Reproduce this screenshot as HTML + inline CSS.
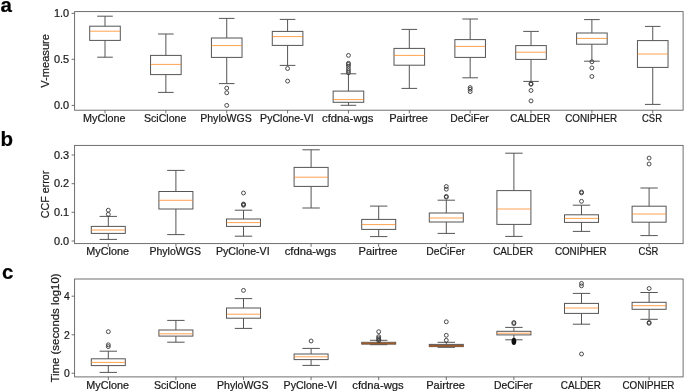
<!DOCTYPE html><html><head><meta charset="utf-8"><style>html,body{margin:0;padding:0;background:#fff;width:685px;height:392px;overflow:hidden}svg{display:block;will-change:transform} text{font-family:"Liberation Sans", sans-serif;fill:#1a1a1a;stroke:#1a1a1a;stroke-width:0.22px}</style></head><body>
<svg width="685" height="392" viewBox="0 0 685 392">
<text x="0.4" y="12.3" font-size="20.5" font-weight="bold" style="fill:#000">a</text>
<text x="0.4" y="146.2" font-size="20.5" font-weight="bold" style="fill:#000">b</text>
<text x="2.0" y="279.3" font-size="20.5" font-weight="bold" style="fill:#000">c</text>
<rect x="74.6" y="11.6" width="608.5" height="98.6" fill="none" stroke="#606060" stroke-width="0.9"/>
<line x1="105" y1="16.2" x2="105" y2="26.2" stroke="#555555" stroke-width="1.0"/>
<line x1="105" y1="40.4" x2="105" y2="57.2" stroke="#555555" stroke-width="1.0"/>
<line x1="97.2" y1="16.2" x2="112.8" y2="16.2" stroke="#555555" stroke-width="1.0"/>
<line x1="97.2" y1="57.2" x2="112.8" y2="57.2" stroke="#555555" stroke-width="1.0"/>
<rect x="89.7" y="26.2" width="30.6" height="14.2" fill="none" stroke="#555555" stroke-width="1.0"/>
<line x1="89.7" y1="31.2" x2="120.3" y2="31.2" stroke="#ff7f0e" stroke-width="1.0" stroke-opacity="0.72"/>
<line x1="105" y1="110.2" x2="105" y2="113.4" stroke="#606060" stroke-width="0.9"/>
<text x="104.3" y="121.7" text-anchor="middle" font-size="10.6" textLength="42.6" lengthAdjust="spacingAndGlyphs">MyClone</text>
<line x1="165.86" y1="34" x2="165.86" y2="55.4" stroke="#555555" stroke-width="1.0"/>
<line x1="165.86" y1="74.6" x2="165.86" y2="92.4" stroke="#555555" stroke-width="1.0"/>
<line x1="158.06" y1="34" x2="173.66" y2="34" stroke="#555555" stroke-width="1.0"/>
<line x1="158.06" y1="92.4" x2="173.66" y2="92.4" stroke="#555555" stroke-width="1.0"/>
<rect x="150.56" y="55.4" width="30.6" height="19.2" fill="none" stroke="#555555" stroke-width="1.0"/>
<line x1="150.56" y1="64.4" x2="181.16" y2="64.4" stroke="#ff7f0e" stroke-width="1.0" stroke-opacity="0.72"/>
<line x1="165.86" y1="110.2" x2="165.86" y2="113.4" stroke="#606060" stroke-width="0.9"/>
<text x="165.16" y="121.7" text-anchor="middle" font-size="10.6" textLength="42.4" lengthAdjust="spacingAndGlyphs">SciClone</text>
<line x1="226.72" y1="18.4" x2="226.72" y2="38" stroke="#555555" stroke-width="1.0"/>
<line x1="226.72" y1="57.4" x2="226.72" y2="83.6" stroke="#555555" stroke-width="1.0"/>
<line x1="218.92" y1="18.4" x2="234.52" y2="18.4" stroke="#555555" stroke-width="1.0"/>
<line x1="218.92" y1="83.6" x2="234.52" y2="83.6" stroke="#555555" stroke-width="1.0"/>
<rect x="211.42" y="38" width="30.6" height="19.4" fill="none" stroke="#555555" stroke-width="1.0"/>
<line x1="211.42" y1="45.6" x2="242.02" y2="45.6" stroke="#ff7f0e" stroke-width="1.0" stroke-opacity="0.72"/>
<circle cx="226.72" cy="88.1" r="1.95" fill="none" stroke="#383838" stroke-width="0.9"/>
<circle cx="226.72" cy="92.8" r="1.95" fill="none" stroke="#383838" stroke-width="0.9"/>
<circle cx="226.72" cy="105.4" r="1.95" fill="none" stroke="#383838" stroke-width="0.9"/>
<line x1="226.72" y1="110.2" x2="226.72" y2="113.4" stroke="#606060" stroke-width="0.9"/>
<text x="226.02" y="121.7" text-anchor="middle" font-size="10.6" textLength="51.6" lengthAdjust="spacingAndGlyphs">PhyloWGS</text>
<line x1="287.58" y1="19.4" x2="287.58" y2="31.4" stroke="#555555" stroke-width="1.0"/>
<line x1="287.58" y1="45.4" x2="287.58" y2="65.4" stroke="#555555" stroke-width="1.0"/>
<line x1="279.78" y1="19.4" x2="295.38" y2="19.4" stroke="#555555" stroke-width="1.0"/>
<line x1="279.78" y1="65.4" x2="295.38" y2="65.4" stroke="#555555" stroke-width="1.0"/>
<rect x="272.28" y="31.4" width="30.6" height="14" fill="none" stroke="#555555" stroke-width="1.0"/>
<line x1="272.28" y1="36.6" x2="302.88" y2="36.6" stroke="#ff7f0e" stroke-width="1.0" stroke-opacity="0.72"/>
<circle cx="287.58" cy="68.5" r="1.95" fill="none" stroke="#383838" stroke-width="0.9"/>
<circle cx="287.58" cy="81.1" r="1.95" fill="none" stroke="#383838" stroke-width="0.9"/>
<line x1="287.58" y1="110.2" x2="287.58" y2="113.4" stroke="#606060" stroke-width="0.9"/>
<text x="286.88" y="121.7" text-anchor="middle" font-size="10.6" textLength="53.6" lengthAdjust="spacingAndGlyphs">PyClone-VI</text>
<line x1="348.44" y1="73.8" x2="348.44" y2="91.1" stroke="#555555" stroke-width="1.0"/>
<line x1="348.44" y1="102.3" x2="348.44" y2="105.3" stroke="#555555" stroke-width="1.0"/>
<line x1="340.64" y1="73.8" x2="356.24" y2="73.8" stroke="#555555" stroke-width="1.0"/>
<line x1="340.64" y1="105.3" x2="356.24" y2="105.3" stroke="#555555" stroke-width="1.0"/>
<rect x="333.14" y="91.1" width="30.6" height="11.2" fill="none" stroke="#555555" stroke-width="1.0"/>
<line x1="333.14" y1="99.6" x2="363.74" y2="99.6" stroke="#ff7f0e" stroke-width="1.0" stroke-opacity="0.72"/>
<circle cx="348.44" cy="55.4" r="1.95" fill="none" stroke="#383838" stroke-width="0.9"/>
<circle cx="348.44" cy="63.3" r="1.95" fill="none" stroke="#383838" stroke-width="0.9"/>
<circle cx="348.44" cy="64.4" r="1.95" fill="none" stroke="#383838" stroke-width="0.9"/>
<circle cx="348.44" cy="66.3" r="1.95" fill="none" stroke="#383838" stroke-width="0.9"/>
<circle cx="348.44" cy="68.7" r="1.95" fill="none" stroke="#383838" stroke-width="0.9"/>
<circle cx="348.44" cy="70.8" r="1.95" fill="none" stroke="#383838" stroke-width="0.9"/>
<circle cx="348.44" cy="72.8" r="1.95" fill="none" stroke="#383838" stroke-width="0.9"/>
<line x1="348.44" y1="110.2" x2="348.44" y2="113.4" stroke="#606060" stroke-width="0.9"/>
<text x="347.74" y="121.7" text-anchor="middle" font-size="10.6" textLength="51.5" lengthAdjust="spacingAndGlyphs">cfdna-wgs</text>
<line x1="409.3" y1="29.4" x2="409.3" y2="48.4" stroke="#555555" stroke-width="1.0"/>
<line x1="409.3" y1="65.2" x2="409.3" y2="88.4" stroke="#555555" stroke-width="1.0"/>
<line x1="401.5" y1="29.4" x2="417.1" y2="29.4" stroke="#555555" stroke-width="1.0"/>
<line x1="401.5" y1="88.4" x2="417.1" y2="88.4" stroke="#555555" stroke-width="1.0"/>
<rect x="394" y="48.4" width="30.6" height="16.8" fill="none" stroke="#555555" stroke-width="1.0"/>
<line x1="394" y1="55.4" x2="424.6" y2="55.4" stroke="#ff7f0e" stroke-width="1.0" stroke-opacity="0.72"/>
<line x1="409.3" y1="110.2" x2="409.3" y2="113.4" stroke="#606060" stroke-width="0.9"/>
<text x="408.6" y="121.7" text-anchor="middle" font-size="10.6" textLength="38.8" lengthAdjust="spacingAndGlyphs">Pairtree</text>
<line x1="470.16" y1="19" x2="470.16" y2="39.6" stroke="#555555" stroke-width="1.0"/>
<line x1="470.16" y1="57.4" x2="470.16" y2="77.8" stroke="#555555" stroke-width="1.0"/>
<line x1="462.36" y1="19" x2="477.96" y2="19" stroke="#555555" stroke-width="1.0"/>
<line x1="462.36" y1="77.8" x2="477.96" y2="77.8" stroke="#555555" stroke-width="1.0"/>
<rect x="454.86" y="39.6" width="30.6" height="17.8" fill="none" stroke="#555555" stroke-width="1.0"/>
<line x1="454.86" y1="46.4" x2="485.46" y2="46.4" stroke="#ff7f0e" stroke-width="1.0" stroke-opacity="0.72"/>
<circle cx="470.16" cy="87.6" r="1.95" fill="none" stroke="#383838" stroke-width="0.9"/>
<circle cx="470.16" cy="89.2" r="1.95" fill="none" stroke="#383838" stroke-width="0.9"/>
<circle cx="470.16" cy="91.6" r="1.95" fill="none" stroke="#383838" stroke-width="0.9"/>
<line x1="470.16" y1="110.2" x2="470.16" y2="113.4" stroke="#606060" stroke-width="0.9"/>
<text x="469.46" y="121.7" text-anchor="middle" font-size="10.6" textLength="38.6" lengthAdjust="spacingAndGlyphs">DeCiFer</text>
<line x1="531.02" y1="31.4" x2="531.02" y2="45.6" stroke="#555555" stroke-width="1.0"/>
<line x1="531.02" y1="59.4" x2="531.02" y2="81.4" stroke="#555555" stroke-width="1.0"/>
<line x1="523.22" y1="31.4" x2="538.82" y2="31.4" stroke="#555555" stroke-width="1.0"/>
<line x1="523.22" y1="81.4" x2="538.82" y2="81.4" stroke="#555555" stroke-width="1.0"/>
<rect x="515.72" y="45.6" width="30.6" height="13.8" fill="none" stroke="#555555" stroke-width="1.0"/>
<line x1="515.72" y1="52.2" x2="546.32" y2="52.2" stroke="#ff7f0e" stroke-width="1.0" stroke-opacity="0.72"/>
<circle cx="531.02" cy="83.6" r="1.95" fill="none" stroke="#383838" stroke-width="0.9"/>
<circle cx="531.02" cy="84.3" r="1.95" fill="none" stroke="#383838" stroke-width="0.9"/>
<circle cx="531.02" cy="90.5" r="1.95" fill="none" stroke="#383838" stroke-width="0.9"/>
<circle cx="531.02" cy="100.9" r="1.95" fill="none" stroke="#383838" stroke-width="0.9"/>
<line x1="531.02" y1="110.2" x2="531.02" y2="113.4" stroke="#606060" stroke-width="0.9"/>
<text x="530.32" y="121.7" text-anchor="middle" font-size="10.6" textLength="40.1" lengthAdjust="spacingAndGlyphs">CALDER</text>
<line x1="591.88" y1="19.6" x2="591.88" y2="33" stroke="#555555" stroke-width="1.0"/>
<line x1="591.88" y1="44.2" x2="591.88" y2="61.2" stroke="#555555" stroke-width="1.0"/>
<line x1="584.08" y1="19.6" x2="599.68" y2="19.6" stroke="#555555" stroke-width="1.0"/>
<line x1="584.08" y1="61.2" x2="599.68" y2="61.2" stroke="#555555" stroke-width="1.0"/>
<rect x="576.58" y="33" width="30.6" height="11.2" fill="none" stroke="#555555" stroke-width="1.0"/>
<line x1="576.58" y1="38.4" x2="607.18" y2="38.4" stroke="#ff7f0e" stroke-width="1.0" stroke-opacity="0.72"/>
<circle cx="591.88" cy="61.8" r="1.95" fill="none" stroke="#383838" stroke-width="0.9"/>
<circle cx="591.88" cy="67.9" r="1.95" fill="none" stroke="#383838" stroke-width="0.9"/>
<circle cx="591.88" cy="76.5" r="1.95" fill="none" stroke="#383838" stroke-width="0.9"/>
<line x1="591.88" y1="110.2" x2="591.88" y2="113.4" stroke="#606060" stroke-width="0.9"/>
<text x="591.18" y="121.7" text-anchor="middle" font-size="10.6" textLength="51.8" lengthAdjust="spacingAndGlyphs">CONIPHER</text>
<line x1="652.74" y1="26.4" x2="652.74" y2="40.6" stroke="#555555" stroke-width="1.0"/>
<line x1="652.74" y1="67.4" x2="652.74" y2="104.4" stroke="#555555" stroke-width="1.0"/>
<line x1="644.94" y1="26.4" x2="660.54" y2="26.4" stroke="#555555" stroke-width="1.0"/>
<line x1="644.94" y1="104.4" x2="660.54" y2="104.4" stroke="#555555" stroke-width="1.0"/>
<rect x="637.44" y="40.6" width="30.6" height="26.8" fill="none" stroke="#555555" stroke-width="1.0"/>
<line x1="637.44" y1="54" x2="668.04" y2="54" stroke="#ff7f0e" stroke-width="1.0" stroke-opacity="0.72"/>
<line x1="652.74" y1="110.2" x2="652.74" y2="113.4" stroke="#606060" stroke-width="0.9"/>
<text x="652.04" y="121.7" text-anchor="middle" font-size="10.6" textLength="20" lengthAdjust="spacingAndGlyphs">CSR</text>
<line x1="71.6" y1="13.4" x2="74.6" y2="13.4" stroke="#606060" stroke-width="0.9"/>
<text x="69.1" y="17.1" text-anchor="end" font-size="10.6" textLength="15.2" lengthAdjust="spacingAndGlyphs">1.0</text>
<line x1="71.6" y1="59.3" x2="74.6" y2="59.3" stroke="#606060" stroke-width="0.9"/>
<text x="69.1" y="63" text-anchor="end" font-size="10.6" textLength="15.2" lengthAdjust="spacingAndGlyphs">0.5</text>
<line x1="71.6" y1="105.4" x2="74.6" y2="105.4" stroke="#606060" stroke-width="0.9"/>
<text x="69.1" y="109.1" text-anchor="end" font-size="10.6" textLength="15.2" lengthAdjust="spacingAndGlyphs">0.0</text>
<text x="0" y="0" text-anchor="middle" font-size="10.6" textLength="53.6" lengthAdjust="spacingAndGlyphs" transform="translate(49 60.9) rotate(-90)">V-measure</text>
<rect x="74.6" y="145.4" width="608.5" height="98.2" fill="none" stroke="#606060" stroke-width="0.9"/>
<line x1="108.3" y1="216.4" x2="108.3" y2="226.4" stroke="#555555" stroke-width="1.0"/>
<line x1="108.3" y1="233.4" x2="108.3" y2="239.4" stroke="#555555" stroke-width="1.0"/>
<line x1="99.6" y1="216.4" x2="117" y2="216.4" stroke="#555555" stroke-width="1.0"/>
<line x1="99.6" y1="239.4" x2="117" y2="239.4" stroke="#555555" stroke-width="1.0"/>
<rect x="91.3" y="226.4" width="34" height="7" fill="none" stroke="#555555" stroke-width="1.0"/>
<line x1="91.3" y1="230" x2="125.3" y2="230" stroke="#ff7f0e" stroke-width="1.0" stroke-opacity="0.72"/>
<circle cx="108.3" cy="210.2" r="1.95" fill="none" stroke="#383838" stroke-width="0.9"/>
<circle cx="108.3" cy="214.3" r="1.95" fill="none" stroke="#383838" stroke-width="0.9"/>
<line x1="108.3" y1="243.6" x2="108.3" y2="246.8" stroke="#606060" stroke-width="0.9"/>
<text x="107.6" y="255" text-anchor="middle" font-size="10.6" textLength="42.6" lengthAdjust="spacingAndGlyphs">MyClone</text>
<line x1="175.9" y1="170.4" x2="175.9" y2="191.5" stroke="#555555" stroke-width="1.0"/>
<line x1="175.9" y1="209" x2="175.9" y2="234.6" stroke="#555555" stroke-width="1.0"/>
<line x1="167.2" y1="170.4" x2="184.6" y2="170.4" stroke="#555555" stroke-width="1.0"/>
<line x1="167.2" y1="234.6" x2="184.6" y2="234.6" stroke="#555555" stroke-width="1.0"/>
<rect x="158.9" y="191.5" width="34" height="17.5" fill="none" stroke="#555555" stroke-width="1.0"/>
<line x1="158.9" y1="200.3" x2="192.9" y2="200.3" stroke="#ff7f0e" stroke-width="1.0" stroke-opacity="0.72"/>
<line x1="175.9" y1="243.6" x2="175.9" y2="246.8" stroke="#606060" stroke-width="0.9"/>
<text x="175.2" y="255" text-anchor="middle" font-size="10.6" textLength="51.6" lengthAdjust="spacingAndGlyphs">PhyloWGS</text>
<line x1="243.5" y1="210.2" x2="243.5" y2="219" stroke="#555555" stroke-width="1.0"/>
<line x1="243.5" y1="226.4" x2="243.5" y2="236.2" stroke="#555555" stroke-width="1.0"/>
<line x1="234.8" y1="210.2" x2="252.2" y2="210.2" stroke="#555555" stroke-width="1.0"/>
<line x1="234.8" y1="236.2" x2="252.2" y2="236.2" stroke="#555555" stroke-width="1.0"/>
<rect x="226.5" y="219" width="34" height="7.4" fill="none" stroke="#555555" stroke-width="1.0"/>
<line x1="226.5" y1="222.6" x2="260.5" y2="222.6" stroke="#ff7f0e" stroke-width="1.0" stroke-opacity="0.72"/>
<circle cx="243.5" cy="193" r="1.95" fill="none" stroke="#383838" stroke-width="0.9"/>
<circle cx="243.5" cy="204" r="1.95" fill="none" stroke="#383838" stroke-width="0.9"/>
<circle cx="243.5" cy="204.6" r="1.95" fill="none" stroke="#383838" stroke-width="0.9"/>
<circle cx="243.5" cy="205.3" r="1.95" fill="none" stroke="#383838" stroke-width="0.9"/>
<line x1="243.5" y1="243.6" x2="243.5" y2="246.8" stroke="#606060" stroke-width="0.9"/>
<text x="242.8" y="255" text-anchor="middle" font-size="10.6" textLength="53.6" lengthAdjust="spacingAndGlyphs">PyClone-VI</text>
<line x1="311.1" y1="149.8" x2="311.1" y2="167.4" stroke="#555555" stroke-width="1.0"/>
<line x1="311.1" y1="186.4" x2="311.1" y2="208" stroke="#555555" stroke-width="1.0"/>
<line x1="302.4" y1="149.8" x2="319.8" y2="149.8" stroke="#555555" stroke-width="1.0"/>
<line x1="302.4" y1="208" x2="319.8" y2="208" stroke="#555555" stroke-width="1.0"/>
<rect x="294.1" y="167.4" width="34" height="19" fill="none" stroke="#555555" stroke-width="1.0"/>
<line x1="294.1" y1="177.2" x2="328.1" y2="177.2" stroke="#ff7f0e" stroke-width="1.0" stroke-opacity="0.72"/>
<line x1="311.1" y1="243.6" x2="311.1" y2="246.8" stroke="#606060" stroke-width="0.9"/>
<text x="310.4" y="255" text-anchor="middle" font-size="10.6" textLength="51.5" lengthAdjust="spacingAndGlyphs">cfdna-wgs</text>
<line x1="378.7" y1="206.1" x2="378.7" y2="219.4" stroke="#555555" stroke-width="1.0"/>
<line x1="378.7" y1="229.4" x2="378.7" y2="236.6" stroke="#555555" stroke-width="1.0"/>
<line x1="370" y1="206.1" x2="387.4" y2="206.1" stroke="#555555" stroke-width="1.0"/>
<line x1="370" y1="236.6" x2="387.4" y2="236.6" stroke="#555555" stroke-width="1.0"/>
<rect x="361.7" y="219.4" width="34" height="10" fill="none" stroke="#555555" stroke-width="1.0"/>
<line x1="361.7" y1="224.6" x2="395.7" y2="224.6" stroke="#ff7f0e" stroke-width="1.0" stroke-opacity="0.72"/>
<line x1="378.7" y1="243.6" x2="378.7" y2="246.8" stroke="#606060" stroke-width="0.9"/>
<text x="378" y="255" text-anchor="middle" font-size="10.6" textLength="38.8" lengthAdjust="spacingAndGlyphs">Pairtree</text>
<line x1="446.3" y1="200.2" x2="446.3" y2="213" stroke="#555555" stroke-width="1.0"/>
<line x1="446.3" y1="222" x2="446.3" y2="233.4" stroke="#555555" stroke-width="1.0"/>
<line x1="437.6" y1="200.2" x2="455" y2="200.2" stroke="#555555" stroke-width="1.0"/>
<line x1="437.6" y1="233.4" x2="455" y2="233.4" stroke="#555555" stroke-width="1.0"/>
<rect x="429.3" y="213" width="34" height="9" fill="none" stroke="#555555" stroke-width="1.0"/>
<line x1="429.3" y1="218" x2="463.3" y2="218" stroke="#ff7f0e" stroke-width="1.0" stroke-opacity="0.72"/>
<circle cx="446.3" cy="186.5" r="1.95" fill="none" stroke="#383838" stroke-width="0.9"/>
<circle cx="446.3" cy="189.2" r="1.95" fill="none" stroke="#383838" stroke-width="0.9"/>
<circle cx="446.3" cy="196.4" r="1.95" fill="none" stroke="#383838" stroke-width="0.9"/>
<circle cx="446.3" cy="197.2" r="1.95" fill="none" stroke="#383838" stroke-width="0.9"/>
<line x1="446.3" y1="243.6" x2="446.3" y2="246.8" stroke="#606060" stroke-width="0.9"/>
<text x="445.6" y="255" text-anchor="middle" font-size="10.6" textLength="38.6" lengthAdjust="spacingAndGlyphs">DeCiFer</text>
<line x1="513.9" y1="153.2" x2="513.9" y2="190.6" stroke="#555555" stroke-width="1.0"/>
<line x1="513.9" y1="224.4" x2="513.9" y2="236.4" stroke="#555555" stroke-width="1.0"/>
<line x1="505.2" y1="153.2" x2="522.6" y2="153.2" stroke="#555555" stroke-width="1.0"/>
<line x1="505.2" y1="236.4" x2="522.6" y2="236.4" stroke="#555555" stroke-width="1.0"/>
<rect x="496.9" y="190.6" width="34" height="33.8" fill="none" stroke="#555555" stroke-width="1.0"/>
<line x1="496.9" y1="209" x2="530.9" y2="209" stroke="#ff7f0e" stroke-width="1.0" stroke-opacity="0.72"/>
<line x1="513.9" y1="243.6" x2="513.9" y2="246.8" stroke="#606060" stroke-width="0.9"/>
<text x="513.2" y="255" text-anchor="middle" font-size="10.6" textLength="40.1" lengthAdjust="spacingAndGlyphs">CALDER</text>
<line x1="581.5" y1="205.2" x2="581.5" y2="214.8" stroke="#555555" stroke-width="1.0"/>
<line x1="581.5" y1="222.4" x2="581.5" y2="231.4" stroke="#555555" stroke-width="1.0"/>
<line x1="572.8" y1="205.2" x2="590.2" y2="205.2" stroke="#555555" stroke-width="1.0"/>
<line x1="572.8" y1="231.4" x2="590.2" y2="231.4" stroke="#555555" stroke-width="1.0"/>
<rect x="564.5" y="214.8" width="34" height="7.6" fill="none" stroke="#555555" stroke-width="1.0"/>
<line x1="564.5" y1="218.4" x2="598.5" y2="218.4" stroke="#ff7f0e" stroke-width="1.0" stroke-opacity="0.72"/>
<circle cx="581.5" cy="192" r="1.95" fill="none" stroke="#383838" stroke-width="0.9"/>
<circle cx="581.5" cy="192.9" r="1.95" fill="none" stroke="#383838" stroke-width="0.9"/>
<circle cx="581.5" cy="201.3" r="1.95" fill="none" stroke="#383838" stroke-width="0.9"/>
<line x1="581.5" y1="243.6" x2="581.5" y2="246.8" stroke="#606060" stroke-width="0.9"/>
<text x="580.8" y="255" text-anchor="middle" font-size="10.6" textLength="51.8" lengthAdjust="spacingAndGlyphs">CONIPHER</text>
<line x1="649.1" y1="188" x2="649.1" y2="206.2" stroke="#555555" stroke-width="1.0"/>
<line x1="649.1" y1="222.2" x2="649.1" y2="235.6" stroke="#555555" stroke-width="1.0"/>
<line x1="640.4" y1="188" x2="657.8" y2="188" stroke="#555555" stroke-width="1.0"/>
<line x1="640.4" y1="235.6" x2="657.8" y2="235.6" stroke="#555555" stroke-width="1.0"/>
<rect x="632.1" y="206.2" width="34" height="16" fill="none" stroke="#555555" stroke-width="1.0"/>
<line x1="632.1" y1="214" x2="666.1" y2="214" stroke="#ff7f0e" stroke-width="1.0" stroke-opacity="0.72"/>
<circle cx="649.1" cy="158.1" r="1.95" fill="none" stroke="#383838" stroke-width="0.9"/>
<circle cx="649.1" cy="164" r="1.95" fill="none" stroke="#383838" stroke-width="0.9"/>
<line x1="649.1" y1="243.6" x2="649.1" y2="246.8" stroke="#606060" stroke-width="0.9"/>
<text x="648.4" y="255" text-anchor="middle" font-size="10.6" textLength="20" lengthAdjust="spacingAndGlyphs">CSR</text>
<line x1="71.6" y1="155" x2="74.6" y2="155" stroke="#606060" stroke-width="0.9"/>
<text x="69.1" y="158.7" text-anchor="end" font-size="10.6" textLength="15.2" lengthAdjust="spacingAndGlyphs">0.3</text>
<line x1="71.6" y1="183.7" x2="74.6" y2="183.7" stroke="#606060" stroke-width="0.9"/>
<text x="69.1" y="187.4" text-anchor="end" font-size="10.6" textLength="15.2" lengthAdjust="spacingAndGlyphs">0.2</text>
<line x1="71.6" y1="212.3" x2="74.6" y2="212.3" stroke="#606060" stroke-width="0.9"/>
<text x="69.1" y="216" text-anchor="end" font-size="10.6" textLength="15.2" lengthAdjust="spacingAndGlyphs">0.1</text>
<line x1="71.6" y1="241" x2="74.6" y2="241" stroke="#606060" stroke-width="0.9"/>
<text x="69.1" y="244.7" text-anchor="end" font-size="10.6" textLength="15.2" lengthAdjust="spacingAndGlyphs">0.0</text>
<text x="0" y="0" text-anchor="middle" font-size="10.6" textLength="47.4" lengthAdjust="spacingAndGlyphs" transform="translate(49.2 194.5) rotate(-90)">CCF error</text>
<rect x="74.6" y="279" width="608.5" height="97.9" fill="none" stroke="#606060" stroke-width="0.9"/>
<line x1="108.3" y1="351.2" x2="108.3" y2="358.8" stroke="#555555" stroke-width="1.0"/>
<line x1="108.3" y1="365.6" x2="108.3" y2="372.4" stroke="#555555" stroke-width="1.0"/>
<line x1="99.6" y1="351.2" x2="117" y2="351.2" stroke="#555555" stroke-width="1.0"/>
<line x1="99.6" y1="372.4" x2="117" y2="372.4" stroke="#555555" stroke-width="1.0"/>
<rect x="91.3" y="358.8" width="34" height="6.8" fill="none" stroke="#555555" stroke-width="1.0"/>
<line x1="91.3" y1="362.4" x2="125.3" y2="362.4" stroke="#ff7f0e" stroke-width="1.0" stroke-opacity="0.72"/>
<circle cx="108.3" cy="331.7" r="1.95" fill="none" stroke="#383838" stroke-width="0.9"/>
<circle cx="108.3" cy="344.8" r="1.95" fill="none" stroke="#383838" stroke-width="0.9"/>
<circle cx="108.3" cy="346.6" r="1.95" fill="none" stroke="#383838" stroke-width="0.9"/>
<line x1="108.3" y1="376.9" x2="108.3" y2="380.1" stroke="#606060" stroke-width="0.9"/>
<text x="107.6" y="388.5" text-anchor="middle" font-size="10.6" textLength="42.6" lengthAdjust="spacingAndGlyphs">MyClone</text>
<line x1="175.9" y1="320.4" x2="175.9" y2="330" stroke="#555555" stroke-width="1.0"/>
<line x1="175.9" y1="336.1" x2="175.9" y2="342.2" stroke="#555555" stroke-width="1.0"/>
<line x1="167.2" y1="320.4" x2="184.6" y2="320.4" stroke="#555555" stroke-width="1.0"/>
<line x1="167.2" y1="342.2" x2="184.6" y2="342.2" stroke="#555555" stroke-width="1.0"/>
<rect x="158.9" y="330" width="34" height="6.1" fill="none" stroke="#555555" stroke-width="1.0"/>
<line x1="158.9" y1="333.8" x2="192.9" y2="333.8" stroke="#ff7f0e" stroke-width="1.0" stroke-opacity="0.72"/>
<line x1="175.9" y1="376.9" x2="175.9" y2="380.1" stroke="#606060" stroke-width="0.9"/>
<text x="175.2" y="388.5" text-anchor="middle" font-size="10.6" textLength="42.4" lengthAdjust="spacingAndGlyphs">SciClone</text>
<line x1="243.5" y1="298.6" x2="243.5" y2="308" stroke="#555555" stroke-width="1.0"/>
<line x1="243.5" y1="318.2" x2="243.5" y2="328.4" stroke="#555555" stroke-width="1.0"/>
<line x1="234.8" y1="298.6" x2="252.2" y2="298.6" stroke="#555555" stroke-width="1.0"/>
<line x1="234.8" y1="328.4" x2="252.2" y2="328.4" stroke="#555555" stroke-width="1.0"/>
<rect x="226.5" y="308" width="34" height="10.2" fill="none" stroke="#555555" stroke-width="1.0"/>
<line x1="226.5" y1="314.2" x2="260.5" y2="314.2" stroke="#ff7f0e" stroke-width="1.0" stroke-opacity="0.72"/>
<circle cx="243.5" cy="290.4" r="1.95" fill="none" stroke="#383838" stroke-width="0.9"/>
<line x1="243.5" y1="376.9" x2="243.5" y2="380.1" stroke="#606060" stroke-width="0.9"/>
<text x="242.8" y="388.5" text-anchor="middle" font-size="10.6" textLength="51.6" lengthAdjust="spacingAndGlyphs">PhyloWGS</text>
<line x1="311.1" y1="348.4" x2="311.1" y2="354" stroke="#555555" stroke-width="1.0"/>
<line x1="311.1" y1="359.6" x2="311.1" y2="365.4" stroke="#555555" stroke-width="1.0"/>
<line x1="302.4" y1="348.4" x2="319.8" y2="348.4" stroke="#555555" stroke-width="1.0"/>
<line x1="302.4" y1="365.4" x2="319.8" y2="365.4" stroke="#555555" stroke-width="1.0"/>
<rect x="294.1" y="354" width="34" height="5.6" fill="none" stroke="#555555" stroke-width="1.0"/>
<line x1="294.1" y1="356.8" x2="328.1" y2="356.8" stroke="#ff7f0e" stroke-width="1.0" stroke-opacity="0.72"/>
<circle cx="311.1" cy="341" r="1.95" fill="none" stroke="#383838" stroke-width="0.9"/>
<line x1="311.1" y1="376.9" x2="311.1" y2="380.1" stroke="#606060" stroke-width="0.9"/>
<text x="310.4" y="388.5" text-anchor="middle" font-size="10.6" textLength="53.6" lengthAdjust="spacingAndGlyphs">PyClone-VI</text>
<line x1="378.7" y1="340.3" x2="378.7" y2="342.3" stroke="#555555" stroke-width="1.0"/>
<line x1="378.7" y1="344.1" x2="378.7" y2="344.7" stroke="#555555" stroke-width="1.0"/>
<line x1="370" y1="340.3" x2="387.4" y2="340.3" stroke="#555555" stroke-width="1.0"/>
<line x1="370" y1="344.7" x2="387.4" y2="344.7" stroke="#555555" stroke-width="1.0"/>
<rect x="361.7" y="342.3" width="34" height="1.8" fill="none" stroke="#555555" stroke-width="1.0"/>
<line x1="361.7" y1="343.4" x2="395.7" y2="343.4" stroke="#9a5a2a" stroke-width="1.7"/>
<circle cx="378.7" cy="331.7" r="1.95" fill="none" stroke="#383838" stroke-width="0.9"/>
<circle cx="378.7" cy="336.6" r="1.95" fill="none" stroke="#383838" stroke-width="0.9"/>
<circle cx="378.7" cy="338" r="1.95" fill="none" stroke="#383838" stroke-width="0.9"/>
<circle cx="378.7" cy="339.4" r="1.95" fill="none" stroke="#383838" stroke-width="0.9"/>
<circle cx="378.7" cy="340.6" r="1.95" fill="none" stroke="#383838" stroke-width="0.9"/>
<line x1="378.7" y1="376.9" x2="378.7" y2="380.1" stroke="#606060" stroke-width="0.9"/>
<text x="378" y="388.5" text-anchor="middle" font-size="10.6" textLength="51.5" lengthAdjust="spacingAndGlyphs">cfdna-wgs</text>
<line x1="446.3" y1="342.3" x2="446.3" y2="344.4" stroke="#555555" stroke-width="1.0"/>
<line x1="446.3" y1="346.6" x2="446.3" y2="347.3" stroke="#555555" stroke-width="1.0"/>
<line x1="437.6" y1="342.3" x2="455" y2="342.3" stroke="#555555" stroke-width="1.0"/>
<line x1="437.6" y1="347.3" x2="455" y2="347.3" stroke="#555555" stroke-width="1.0"/>
<rect x="429.3" y="344.4" width="34" height="2.2" fill="none" stroke="#555555" stroke-width="1.0"/>
<line x1="429.3" y1="345.8" x2="463.3" y2="345.8" stroke="#9a5a2a" stroke-width="1.7"/>
<circle cx="446.3" cy="321.8" r="1.95" fill="none" stroke="#383838" stroke-width="0.9"/>
<circle cx="446.3" cy="335.3" r="1.95" fill="none" stroke="#383838" stroke-width="0.9"/>
<circle cx="446.3" cy="340.3" r="1.95" fill="none" stroke="#383838" stroke-width="0.9"/>
<line x1="446.3" y1="376.9" x2="446.3" y2="380.1" stroke="#606060" stroke-width="0.9"/>
<text x="445.6" y="388.5" text-anchor="middle" font-size="10.6" textLength="38.8" lengthAdjust="spacingAndGlyphs">Pairtree</text>
<line x1="513.9" y1="327.4" x2="513.9" y2="331.3" stroke="#555555" stroke-width="1.0"/>
<line x1="513.9" y1="334.9" x2="513.9" y2="339.8" stroke="#555555" stroke-width="1.0"/>
<line x1="505.2" y1="327.4" x2="522.6" y2="327.4" stroke="#555555" stroke-width="1.0"/>
<line x1="505.2" y1="339.8" x2="522.6" y2="339.8" stroke="#555555" stroke-width="1.0"/>
<rect x="496.9" y="331.3" width="34" height="3.6" fill="none" stroke="#555555" stroke-width="1.0"/>
<line x1="496.9" y1="333.2" x2="530.9" y2="333.2" stroke="#ff7f0e" stroke-width="1.0" stroke-opacity="0.72"/>
<circle cx="513.9" cy="322.5" r="1.95" fill="none" stroke="#383838" stroke-width="0.9"/>
<circle cx="513.9" cy="323.6" r="1.95" fill="none" stroke="#383838" stroke-width="0.9"/>
<line x1="513.9" y1="376.9" x2="513.9" y2="380.1" stroke="#606060" stroke-width="0.9"/>
<text x="513.2" y="388.5" text-anchor="middle" font-size="10.6" textLength="38.6" lengthAdjust="spacingAndGlyphs">DeCiFer</text>
<line x1="581.5" y1="293.4" x2="581.5" y2="303.4" stroke="#555555" stroke-width="1.0"/>
<line x1="581.5" y1="313.4" x2="581.5" y2="324.2" stroke="#555555" stroke-width="1.0"/>
<line x1="572.8" y1="293.4" x2="590.2" y2="293.4" stroke="#555555" stroke-width="1.0"/>
<line x1="572.8" y1="324.2" x2="590.2" y2="324.2" stroke="#555555" stroke-width="1.0"/>
<rect x="564.5" y="303.4" width="34" height="10" fill="none" stroke="#555555" stroke-width="1.0"/>
<line x1="564.5" y1="308" x2="598.5" y2="308" stroke="#ff7f0e" stroke-width="1.0" stroke-opacity="0.72"/>
<circle cx="581.5" cy="283.4" r="1.95" fill="none" stroke="#383838" stroke-width="0.9"/>
<circle cx="581.5" cy="285.8" r="1.95" fill="none" stroke="#383838" stroke-width="0.9"/>
<circle cx="581.5" cy="354" r="1.95" fill="none" stroke="#383838" stroke-width="0.9"/>
<line x1="581.5" y1="376.9" x2="581.5" y2="380.1" stroke="#606060" stroke-width="0.9"/>
<text x="580.8" y="388.5" text-anchor="middle" font-size="10.6" textLength="40.1" lengthAdjust="spacingAndGlyphs">CALDER</text>
<line x1="649.1" y1="292.5" x2="649.1" y2="302.3" stroke="#555555" stroke-width="1.0"/>
<line x1="649.1" y1="309.3" x2="649.1" y2="319.3" stroke="#555555" stroke-width="1.0"/>
<line x1="640.4" y1="292.5" x2="657.8" y2="292.5" stroke="#555555" stroke-width="1.0"/>
<line x1="640.4" y1="319.3" x2="657.8" y2="319.3" stroke="#555555" stroke-width="1.0"/>
<rect x="632.1" y="302.3" width="34" height="7" fill="none" stroke="#555555" stroke-width="1.0"/>
<line x1="632.1" y1="305.7" x2="666.1" y2="305.7" stroke="#ff7f0e" stroke-width="1.0" stroke-opacity="0.72"/>
<circle cx="649.1" cy="288.5" r="1.95" fill="none" stroke="#383838" stroke-width="0.9"/>
<circle cx="649.1" cy="322.4" r="1.95" fill="none" stroke="#383838" stroke-width="0.9"/>
<circle cx="649.1" cy="323.3" r="1.95" fill="none" stroke="#383838" stroke-width="0.9"/>
<line x1="649.1" y1="376.9" x2="649.1" y2="380.1" stroke="#606060" stroke-width="0.9"/>
<text x="648.4" y="388.5" text-anchor="middle" font-size="10.6" textLength="51.8" lengthAdjust="spacingAndGlyphs">CONIPHER</text>
<line x1="71.6" y1="296.2" x2="74.6" y2="296.2" stroke="#606060" stroke-width="0.9"/>
<text x="69.7" y="299.9" text-anchor="end" font-size="10.6" textLength="5.8" lengthAdjust="spacingAndGlyphs">4</text>
<line x1="71.6" y1="334.8" x2="74.6" y2="334.8" stroke="#606060" stroke-width="0.9"/>
<text x="69.7" y="338.5" text-anchor="end" font-size="10.6" textLength="5.8" lengthAdjust="spacingAndGlyphs">2</text>
<line x1="71.6" y1="373.2" x2="74.6" y2="373.2" stroke="#606060" stroke-width="0.9"/>
<text x="69.7" y="376.9" text-anchor="end" font-size="10.6" textLength="5.8" lengthAdjust="spacingAndGlyphs">0</text>
<text x="0" y="0" text-anchor="middle" font-size="10.6" textLength="109" lengthAdjust="spacingAndGlyphs" transform="translate(58.8 327.95) rotate(-90)">Time (seconds log10)</text>
<ellipse cx="513.9" cy="341.3" rx="2.4" ry="3.6" fill="#111"/>
</svg></body></html>
